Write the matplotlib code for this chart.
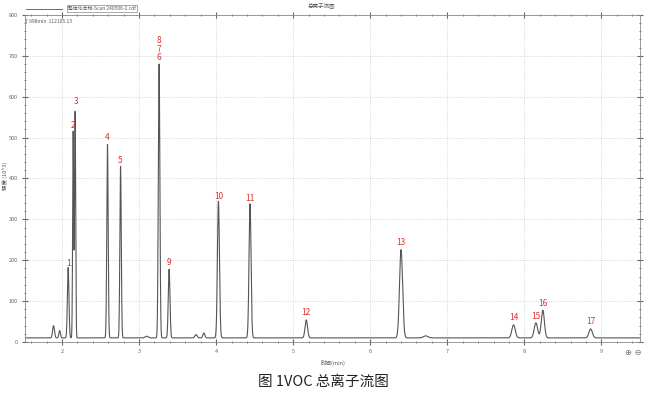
import numpy as np
import matplotlib.pyplot as plt

plt.rcParams['font.family'] = ['Noto Sans CJK SC', 'DejaVu Sans']

# peak list
peak_times = [1.89, 1.97, 2.08, 2.145, 2.17, 2.59, 2.76, 3.10, 3.26, 3.39,
              3.74, 3.84, 4.03, 4.44, 5.17, 6.40, 6.72, 7.86, 8.15, 8.24, 8.86]
peak_heights = [30, 18, 172, 505, 555, 474, 420, 4, 670, 168,
                8, 12, 334, 328, 44, 216, 5, 32, 37, 68, 22]
peak_widths = [0.012, 0.010, 0.010, 0.007, 0.007, 0.009, 0.009, 0.02, 0.010, 0.011,
               0.015, 0.012, 0.013, 0.013, 0.016, 0.020, 0.03, 0.022, 0.022, 0.020, 0.022]
baseline = 10

# numbered compound labels
label_text = ['1', '2', '3', '4', '5', '6', '7', '8', '9', '10',
              '11', '12', '13', '14', '15', '16', '17']
label_times = [2.08, 2.14, 2.18, 2.59, 2.76, 3.26, 3.26, 3.26, 3.39, 4.03,
               4.44, 5.17, 6.40, 7.86, 8.15, 8.24, 8.86]
label_heights = [182, 518, 578, 490, 432, 684, 705, 726, 184, 346,
                 340, 60, 232, 50, 52, 84, 38]

t = np.linspace(1.52, 9.5, 6000)
signal = np.full_like(t, baseline, dtype=float)
for t0, h, w in zip(peak_times, peak_heights, peak_widths):
    signal += h * np.exp(-0.5 * ((t - t0) / w) ** 2)

fig = plt.figure(figsize=(6.5, 3.94), dpi=100)
ax = fig.add_axes([0.0385, 0.132, 0.946, 0.830])

ax.plot(t, signal, color='#555555', lw=0.8)
for s, x, y in zip(label_text, label_times, label_heights):
    ax.text(x, y, s, color='#e03030', fontsize=6, ha='center', va='bottom')

ax.set_xlim(1.52, 9.5)
ax.set_ylim(0, 800)
ax.set_xticks(range(2, 10))
ax.set_yticks(range(0, 801, 100))
ax.set_xticks(np.arange(1.6, 9.5, 0.2), minor=True)
ax.set_yticks(range(0, 801, 20), minor=True)
ax.grid(True, which='major', ls=':', color='#cccccc', lw=0.6)
ax.tick_params(which='both', direction='inout', labelsize=4, colors='#666666',
               top=True, right=True, pad=3)
ax.tick_params(which='major', length=4)
ax.tick_params(which='minor', length=2)
for sp in ax.spines.values():
    sp.set_color('#888888')
    sp.set_linewidth(0.6)

ax.set_xlabel('时间(min)', fontsize=4, color='#555555', labelpad=4)
fig.text(0.008, 0.555, '强度 (10^3)', fontsize=4, color='#555555', rotation=90,
         ha='center', va='center')

fig.text(0.495, 0.99, '总离子流图', fontsize=4, color='#555555', ha='center', va='top')
fig.text(0.038, 0.952, '7.998min  112105.13', fontsize=3.5, color='#555555', va='top')
fig.text(0.105, 0.978, '整体化合物-Scan 240506-2.cdf', fontsize=3.5, color='#555555', va='center',
         bbox=dict(boxstyle='square,pad=0.2', fc='white', ec='#888888', lw=0.5))
fig.lines.append(plt.Line2D([0.040, 0.095], [0.978, 0.978], transform=fig.transFigure,
                            color='#555555', lw=0.6))
fig.text(0.975, 0.105, '⊕ ⊖', fontsize=6, color='#777777', ha='center', va='center',
         family='DejaVu Sans')

fig.text(0.497, 0.03, '图 1VOC 总离子流图', fontsize=10.5, ha='center', va='center',
         color='#222222')

fig.savefig('out.png', dpi=100)
